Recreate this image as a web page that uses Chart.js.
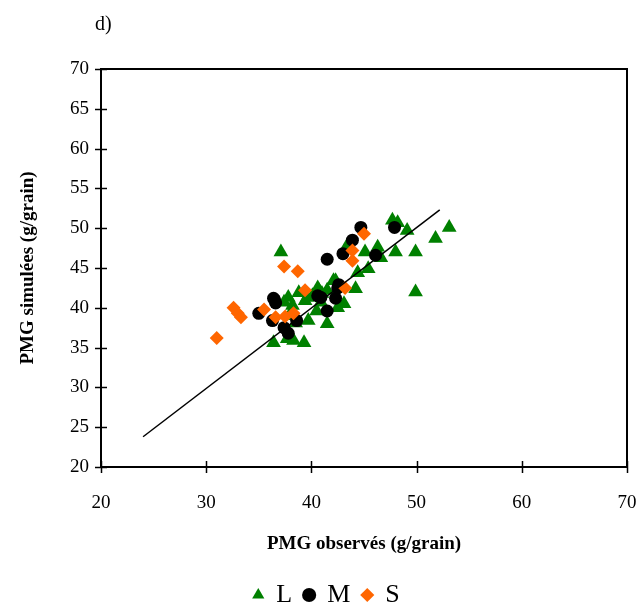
<!DOCTYPE html>
<html>
<head>
<meta charset="utf-8">
<script src="https://cdn.jsdelivr.net/npm/chart.js@4"></script>
<style>
  body { margin: 0; background: #fff; }
  #wrap { width: 641px; height: 607px; }
</style>
</head>
<body>
<div id="wrap"><canvas id="pmg" width="641" height="607"></canvas></div>
<script>
const pointsL = [
  [37.1, 47.0], [36.4, 35.6], [37.7, 36.1], [38.3, 35.9], [39.3, 35.6],
  [39.7, 38.4], [41.5, 38.0], [42.5, 40.0], [42.1, 43.4], [41.5, 42.2],
  [44.2, 42.4], [44.4, 44.4], [45.4, 44.9], [43.4, 47.8], [45.1, 47.0],
  [46.3, 47.6], [47.7, 51.0], [48.2, 50.7], [49.1, 49.7], [51.8, 48.7],
  [53.1, 50.1], [48.0, 47.0], [49.9, 47.0], [49.9, 42.0], [46.6, 46.3],
  [37.8, 41.3], [38.8, 41.9], [37.4, 40.7], [39.4, 40.9], [40.1, 41.5],
  [40.9, 40.7], [40.5, 39.6], [38.5, 38.1], [40.6, 42.5], [42.3, 43.4],
  [43.1, 40.5], [39.6, 41.3], [40.7, 42.2], [41.0, 41.8], [37.9, 39.0],
  [38.2, 40.3]
];
const pointsM = [
  [35.0, 39.3], [36.4, 41.2], [36.6, 40.6], [36.3, 38.4], [37.4, 37.5],
  [37.8, 36.8], [38.6, 38.4], [40.9, 41.3], [41.5, 39.6], [42.3, 41.2],
  [42.5, 42.5], [41.5, 46.1], [43.0, 46.8], [43.9, 48.5], [44.7, 50.1],
  [47.9, 50.1], [46.1, 46.6], [42.6, 42.9], [36.5, 41.0], [40.6, 41.5]
];
const pointsS = [
  [31.0, 36.2], [32.6, 40.0], [33.0, 39.3], [33.3, 38.8], [35.5, 39.8],
  [36.6, 38.8], [37.5, 38.9], [38.3, 39.3], [37.4, 45.2], [38.7, 44.6],
  [39.4, 42.2], [43.2, 42.5], [43.9, 45.9], [43.9, 47.2], [45.0, 49.3]
];
const fitLine = [[24.0, 23.8], [52.2, 52.3]];

const xTicks = [20, 30, 40, 50, 60, 70];
const yTicks = [20, 25, 30, 35, 40, 45, 50, 55, 60, 65, 70];

const serif = 'Liberation Serif, Times New Roman, serif';
const toXY = (arr) => arr.map(p => ({ x: p[0], y: p[1] }));

// box around the plot and ticks that cross the axes
const frame = {
  id: 'frame',
  afterLayout(chart) {
    // legend sits a bit right of the canvas centre in the original
    const lg = chart.legend;
    lg.left += 13; lg.right += 13;
    lg.top -= 1; lg.bottom -= 1;
  },
  afterDraw(chart) {
    const c = chart.ctx;
    const a = chart.chartArea;
    const xs = chart.scales.x, ys = chart.scales.y;
    c.save();
    c.strokeStyle = '#000';
    c.lineWidth = 2;
    c.beginPath();
    c.moveTo(a.left, a.top); c.lineTo(a.right, a.top); c.lineTo(a.right, a.bottom);
    c.stroke();
    c.lineWidth = 1.5;
    yTicks.forEach(v => {
      const py = Math.round(ys.getPixelForValue(v)) + 0.5;
      c.beginPath(); c.moveTo(a.left - 6, py); c.lineTo(a.left + 6, py); c.stroke();
    });
    xTicks.forEach(v => {
      const px = Math.round(xs.getPixelForValue(v)) + 0.5;
      c.beginPath(); c.moveTo(px, a.bottom - 6); c.lineTo(px, a.bottom + 6); c.stroke();
    });
    c.fillStyle = '#000';
    c.font = '20px ' + serif;
    c.textBaseline = 'middle';
    c.fillText('d)', 95, 25);
    c.restore();
  }
};

new Chart(document.getElementById('pmg'), {
  type: 'scatter',
  data: {
    datasets: [
      { label: 'L', data: toXY(pointsL), order: 3, pointStyle: 'triangle', pointRadius: 8.5,
        backgroundColor: '#008000', borderColor: '#008000', borderWidth: 0 },
      { label: 'M', data: toXY(pointsM), order: 2, pointStyle: 'circle', pointRadius: 6.5,
        backgroundColor: '#000', borderColor: '#000', borderWidth: 0 },
      { label: 'S', data: toXY(pointsS), order: 1, pointStyle: 'rectRot', pointRadius: 7,
        backgroundColor: '#FF6600', borderColor: '#FF6600', borderWidth: 0 },
      { label: 'fit', data: toXY(fitLine), order: 0, showLine: true, pointRadius: 0,
        borderColor: '#000', borderWidth: 1.5, fill: false }
    ]
  },
  options: {
    responsive: false,
    animation: false,
    layout: { padding: { top: 69, right: 14, left: 0, bottom: -12 } },
    plugins: {
      tooltip: { enabled: false },
      legend: {
        position: 'bottom',
        labels: {
          usePointStyle: true,
          color: '#000',
          font: { family: serif, size: 26, lineHeight: 1 },
          boxWidth: 10,
          boxHeight: 10,
          padding: 12,
          sort: (a, b) => a.datasetIndex - b.datasetIndex,
          filter: item => item.text !== 'fit'
        }
      }
    },
    scales: {
      x: {
        type: 'linear', min: 20, max: 70,
        afterBuildTicks: s => { s.ticks = xTicks.map(v => ({ value: v })); },
        afterFit: s => { s.height = 104; s.paddingRight = 0; s.paddingLeft = 0; },
        grid: { display: false, drawTicks: false },
        border: { display: true, color: '#000', width: 2 },
        ticks: { color: '#000', font: { family: serif, size: 19 }, padding: 25 },
        title: { display: true, text: 'PMG observés (g/grain)', color: '#000',
                 font: { family: serif, size: 19, weight: 'bold' }, padding: { top: 18, bottom: 16 } }
      },
      y: {
        type: 'linear', min: 20, max: 70,
        afterBuildTicks: s => { s.ticks = yTicks.map(v => ({ value: v })); },
        afterFit: s => { s.width = 101; },
        grid: { display: false, drawTicks: false },
        border: { display: true, color: '#000', width: 2 },
        ticks: { color: '#000', font: { family: serif, size: 19 }, padding: 12 },
        title: { display: true, text: 'PMG simulées (g/grain)', color: '#000',
                 font: { family: serif, size: 19, weight: 'bold' }, padding: { top: 17, bottom: 0 } }
      }
    }
  },
  plugins: [frame]
});
</script>
</body>
</html>
